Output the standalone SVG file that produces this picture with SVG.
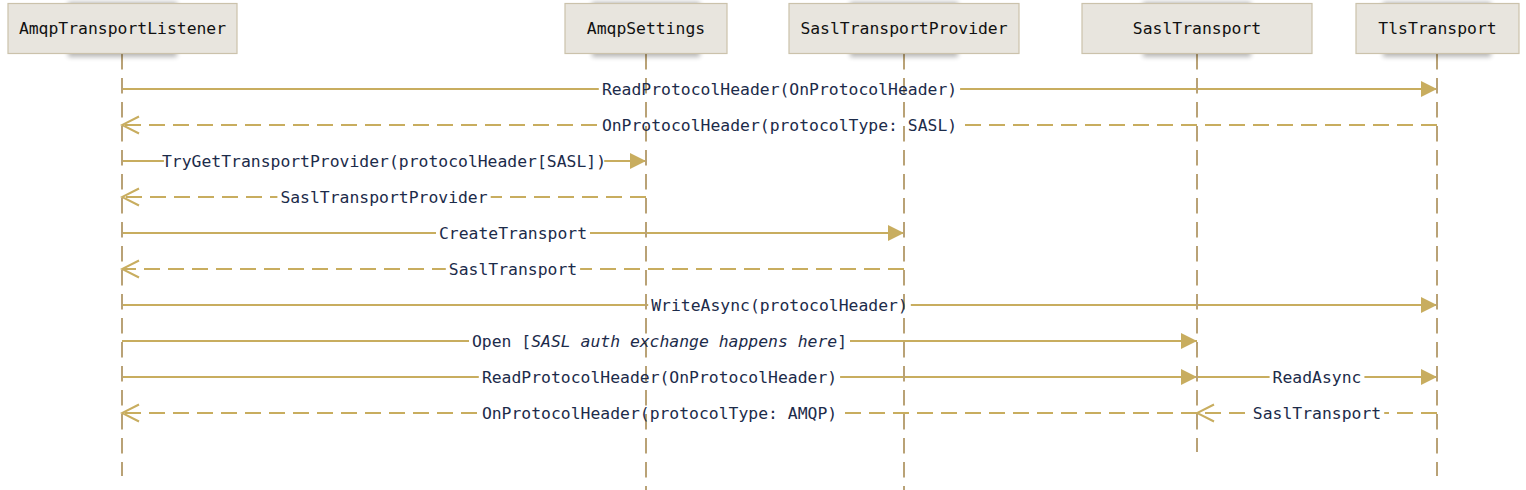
<svg xmlns="http://www.w3.org/2000/svg" width="1526" height="490" viewBox="0 0 1526 490">
<style>
.box{fill:#e8e5de;stroke:#cbc2ab;stroke-width:1.2}
.shadow{fill:#000;opacity:.28;filter:url(#blur)}
.life{stroke:#b9a276;stroke-width:2;stroke-dasharray:15.5 8.5;fill:none}
.hdr{font-family:"DejaVu Sans Mono","Liberation Mono",monospace;font-size:16.4px;fill:#111;text-anchor:middle}
.lbl{font-family:"DejaVu Sans Mono","Liberation Mono",monospace;font-size:16.4px;fill:#1c2b4a;text-anchor:middle}
.msg{stroke:#c8ad5f;stroke-width:2;fill:none;marker-end:url(#solid)}
.ret{stroke:#c8ad5f;stroke-width:2;fill:none;stroke-dasharray:16 8;marker-end:url(#open)}
.bg{fill:#fff}
</style>
<defs>
<filter id="blur" x="-20%" y="-20%" width="140%" height="140%"><feGaussianBlur stdDeviation="2.5"/></filter>
<marker id="solid" markerUnits="userSpaceOnUse" markerWidth="18" markerHeight="17" refX="17" refY="8.5" orient="auto" viewBox="0 0 18 17">
<path d="M1,0.5 L17,8.5 L1,16.5 z" fill="#c8ad5f"/>
</marker>
<marker id="open" markerUnits="userSpaceOnUse" markerWidth="20" markerHeight="20" refX="18" refY="10" orient="auto" viewBox="0 0 20 20">
<path d="M1,1.5 L18,10 L1,18.5" fill="none" stroke="#c8ad5f" stroke-width="2" stroke-dasharray="none"/>
</marker>
</defs>
<rect width="1526" height="490" fill="#fff"/>
<g id="connectors">
<line class="msg" x1="122" y1="89" x2="1437" y2="89"/>
<line class="ret" x1="1437" y1="125" x2="122" y2="125"/>
<line class="msg" x1="122" y1="161" x2="646" y2="161"/>
<line class="ret" x1="646" y1="197" x2="122" y2="197"/>
<line class="msg" x1="122" y1="233" x2="904" y2="233"/>
<line class="ret" x1="904" y1="269" x2="122" y2="269"/>
<line class="msg" x1="122" y1="305" x2="1437" y2="305"/>
<line class="msg" x1="122" y1="341" x2="1197" y2="341"/>
<line class="msg" x1="122" y1="377" x2="1197" y2="377"/>
<line class="msg" x1="1197" y1="377" x2="1437" y2="377"/>
<line class="ret" x1="1197" y1="413" x2="122" y2="413"/>
<line class="ret" x1="1437" y1="413" x2="1197" y2="413"/>
<rect class="bg" x="598.8" y="80" width="361.3" height="18"/>
<rect class="bg" x="598.8" y="116" width="361.3" height="18"/>
<rect class="bg" x="163.9" y="152" width="440.3" height="18"/>
<rect class="bg" x="277.4" y="188" width="213.3" height="18"/>
<rect class="bg" x="436" y="224" width="154" height="18"/>
<rect class="bg" x="445.8" y="260" width="134.3" height="18"/>
<rect class="bg" x="648.2" y="296" width="262.6" height="18"/>
<rect class="bg" x="469" y="332" width="381" height="18"/>
<rect class="bg" x="478.8" y="368" width="361.3" height="18"/>
<rect class="bg" x="1269.6" y="368" width="94.8" height="18"/>
<rect class="bg" x="478.8" y="404" width="361.3" height="18"/>
<rect class="bg" x="1249.9" y="404" width="134.3" height="18"/>
</g>
<g id="lifelines">
<line class="life" x1="122" y1="54" x2="122" y2="476"/>
<line class="life" x1="646" y1="54" x2="646" y2="490"/>
<line class="life" x1="904" y1="54" x2="904" y2="490"/>
<line class="life" x1="1197" y1="54" x2="1197" y2="452"/>
<line class="life" x1="1437" y1="54" x2="1437" y2="476"/>
</g>
<g id="labels">
<text class="lbl" x="779.5" y="94.5">ReadProtocolHeader(OnProtocolHeader)</text>
<text class="lbl" x="779.5" y="130.5">OnProtocolHeader(protocolType: SASL)</text>
<text class="lbl" x="384" y="166.5">TryGetTransportProvider(protocolHeader[SASL])</text>
<text class="lbl" x="384" y="202.5">SaslTransportProvider</text>
<text class="lbl" x="513" y="238.5">CreateTransport</text>
<text class="lbl" x="513" y="274.5">SaslTransport</text>
<text class="lbl" x="779.5" y="310.5">WriteAsync(protocolHeader)</text>
<text class="lbl" x="659.5" y="346.5">Open [<tspan font-style="italic">SASL auth exchange happens here</tspan>]</text>
<text class="lbl" x="659.5" y="382.5">ReadProtocolHeader(OnProtocolHeader)</text>
<text class="lbl" x="1317" y="382.5">ReadAsync</text>
<text class="lbl" x="659.5" y="418.5">OnProtocolHeader(protocolType: AMQP)</text>
<text class="lbl" x="1317" y="418.5">SaslTransport</text>
</g>
<g id="AmqpTransportListener">
<rect class="shadow" x="68" y="2" width="109" height="55"/>
<rect class="box" x="8" y="3.5" width="229" height="50"/>
<text class="hdr" x="122.5" y="34">AmqpTransportListener</text>
</g>
<g id="AmqpSettings">
<rect class="shadow" x="592" y="2" width="108" height="55"/>
<rect class="box" x="565" y="3.5" width="162" height="50"/>
<text class="hdr" x="646" y="34">AmqpSettings</text>
</g>
<g id="SaslTransportProvider">
<rect class="shadow" x="850" y="2" width="108" height="55"/>
<rect class="box" x="789" y="3.5" width="230" height="50"/>
<text class="hdr" x="904" y="34">SaslTransportProvider</text>
</g>
<g id="SaslTransport">
<rect class="shadow" x="1143" y="2" width="108" height="55"/>
<rect class="box" x="1082" y="3.5" width="230" height="50"/>
<text class="hdr" x="1197" y="34">SaslTransport</text>
</g>
<g id="TlsTransport">
<rect class="shadow" x="1383" y="2" width="108" height="55"/>
<rect class="box" x="1356" y="3.5" width="163" height="50"/>
<text class="hdr" x="1437.5" y="34">TlsTransport</text>
</g>
</svg>
